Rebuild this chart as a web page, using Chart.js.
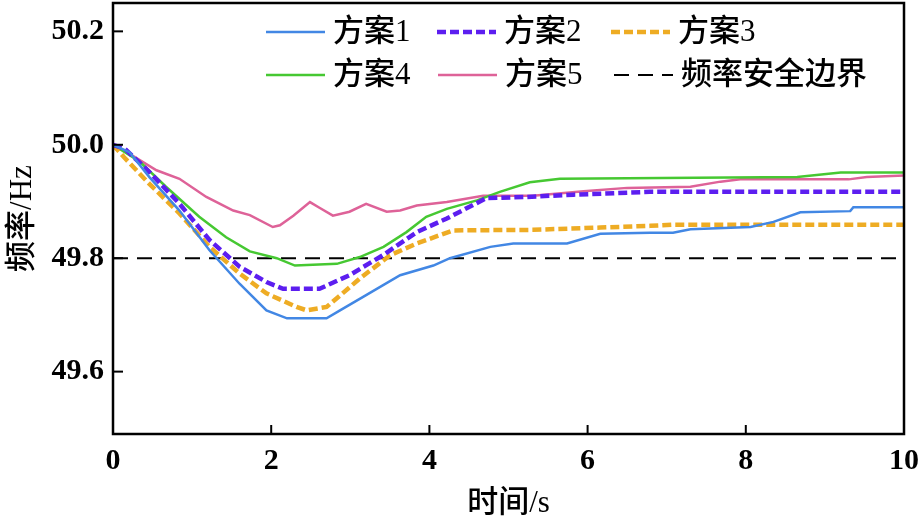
<!DOCTYPE html>
<html>
<head>
<meta charset="utf-8">
<script src="https://cdn.jsdelivr.net/npm/chart.js@4"></script>
<style>
  html, body { margin: 0; padding: 0; background: #fff; }
  #wrap { width: 924px; height: 522px; }
</style>
</head>
<body>
<div id="wrap"><canvas id="freqChart" width="924" height="522"></canvas></div>
<script>
// time (s) and frequency (Hz), one pair per scheme
const t1 = [0, 0.21, 0.46, 0.84, 1.22, 1.6, 1.94, 2.2, 2.7, 2.87, 3.2, 3.63, 4.05, 4.26, 4.77, 5.06, 5.74, 6.16, 6.79, 7.08, 7.3, 8.06, 8.35, 8.69, 9.32, 9.36, 10]
const v1 = [50.0, 49.987, 49.943, 49.884, 49.814, 49.755, 49.708, 49.694, 49.694, 49.708, 49.735, 49.77, 49.787, 49.80, 49.82, 49.826, 49.826, 49.843, 49.845, 49.845, 49.851, 49.855, 49.864, 49.881, 49.883, 49.89, 49.89]

const t2 = [0, 0.15, 0.46, 0.84, 1.22, 1.6, 1.94, 2.15, 2.61, 2.99, 3.41, 3.84, 4.22, 4.72, 5.23, 5.82, 6.79, 10]
const v2 = [50.0, 49.993, 49.952, 49.896, 49.832, 49.785, 49.758, 49.746, 49.746, 49.77, 49.805, 49.846, 49.87, 49.906, 49.908, 49.912, 49.917, 49.917]

const t3 = [0, 0.14, 0.46, 0.84, 1.22, 1.6, 1.94, 2.32, 2.45, 2.7, 3.12, 3.5, 3.84, 4.3, 5.31, 6.16, 6.79, 7.08, 10]
const v3 = [50.0, 49.978, 49.931, 49.879, 49.82, 49.773, 49.738, 49.714, 49.708, 49.714, 49.764, 49.805, 49.826, 49.849, 49.85, 49.854, 49.857, 49.859, 49.859]

const t4 = [0, 0.34, 0.67, 1.09, 1.43, 1.73, 2.07, 2.3, 2.83, 3.12, 3.42, 3.71, 3.96, 4.22, 4.6, 4.89, 5.27, 5.65, 8.65, 9.2, 10]
const v4 = [50.0, 49.97, 49.926, 49.873, 49.837, 49.812, 49.80, 49.787, 49.79, 49.802, 49.82, 49.846, 49.873, 49.887, 49.902, 49.917, 49.934, 49.94, 49.943, 49.951, 49.951]

const t5 = [0, 0.21, 0.55, 0.84, 1.18, 1.52, 1.73, 2.02, 2.11, 2.28, 2.49, 2.61, 2.78, 2.99, 3.2, 3.46, 3.63, 3.84, 4.22, 4.68, 5.31, 5.95, 6.5, 7.3, 7.68, 7.93, 9.3, 9.53, 10]
const v5 = [50.0, 49.984, 49.955, 49.94, 49.908, 49.884, 49.876, 49.855, 49.858, 49.875, 49.899, 49.889, 49.875, 49.882, 49.896, 49.882, 49.884, 49.893, 49.899, 49.91, 49.91, 49.918, 49.924, 49.926, 49.935, 49.939, 49.939, 49.943, 49.946]

const limitT = [0, 10]
const limitV = [49.8, 49.8]

const seriesNames = ["方案1", "方案2", "方案3", "方案4", "方案5", "频率安全边界"]
const xTicks = [0, 2, 4, 6, 8, 10]
const yTicks = [49.6, 49.8, 50.0, 50.2]

const serif = "'Liberation Serif', 'Noto Sans CJK SC', serif"

function toPoints(ts, vs){
    let pts = []
    ts.forEach((t, i) => {
        pts.push({x: t, y: vs[i]})
    })
    return pts
}

function makeSet(name, ts, vs, color, width, dash){
    return {
        label: name,
        data: toPoints(ts, vs),
        borderColor: color,
        borderWidth: width,
        borderDash: dash,
        pointRadius: 0,
        fill: false,
        tension: 0
    }
}

// frame, inward ticks and the legend are drawn by hand
const framePlugin = {
    id: 'frame',
    afterDraw(chart){
        const ctx = chart.ctx
        const a = chart.chartArea
        const xs = chart.scales.x
        const ys = chart.scales.y
        ctx.save()
        ctx.strokeStyle = '#000'
        ctx.lineWidth = 2.5
        ctx.strokeRect(a.left, a.top, a.right - a.left, a.bottom - a.top)
        ctx.lineWidth = 2
        xTicks.forEach(v => {
            const px = xs.getPixelForValue(v)
            ctx.beginPath(); ctx.moveTo(px, a.bottom); ctx.lineTo(px, a.bottom - 9); ctx.stroke()
        })
        yTicks.forEach(v => {
            const py = ys.getPixelForValue(v)
            ctx.beginPath(); ctx.moveTo(a.left, py); ctx.lineTo(a.left + 10, py); ctx.stroke()
        })

        // legend: two rows of three
        const items = [
            {x: 266, y: 32}, {x: 437, y: 32}, {x: 611, y: 32},
            {x: 266, y: 75}, {x: 438, y: 75}, {x: 614, y: 75}
        ]
        ctx.font = "500 31px " + serif
        ctx.textBaseline = 'middle'
        ctx.fillStyle = '#000'
        chart.data.datasets.forEach((ds, i) => {
            const it = items[i]
            ctx.strokeStyle = ds.borderColor
            ctx.lineWidth = ds.borderWidth
            ctx.setLineDash(ds.borderDash || [])
            ctx.beginPath(); ctx.moveTo(it.x, it.y); ctx.lineTo(it.x + 59, it.y); ctx.stroke()
            ctx.setLineDash([])
            ctx.fillText(ds.label, it.x + 67, it.y + 1)
        })
        ctx.restore()
    }
}

const chartConfig = {
    type: 'line',
    data: {
        datasets: [
            makeSet(seriesNames[0], t1, v1, 'rgb(66,135,228)', 2.5, []),
            makeSet(seriesNames[1], t2, v2, 'rgb(92,30,240)', 4.5, [9, 4]),
            makeSet(seriesNames[2], t3, v3, 'rgb(238,172,36)', 4.5, [9, 4]),
            makeSet(seriesNames[3], t4, v4, 'rgb(70,200,50)', 2.5, []),
            makeSet(seriesNames[4], t5, v5, 'rgb(222,98,152)', 2.5, []),
            makeSet(seriesNames[5], limitT, limitV, '#000', 2, [15, 9])
        ]
    },
    options: {
        responsive: false,
        animation: false,
        layout: { padding: { top: 3, right: 20, left: 0, bottom: 0 } },
        plugins: { legend: { display: false }, tooltip: { enabled: false } },
        scales: {
            x: {
                type: 'linear',
                min: 0,
                max: 10,
                afterBuildTicks: s => { s.ticks = xTicks.map(v => ({value: v})) },
                afterFit: s => { s.height = 88; s.paddingLeft = 0; s.paddingRight = 0 },
                grid: { display: false, drawTicks: false },
                border: { display: false },
                ticks: { color: '#000', font: { family: serif, size: 30, weight: 'bold' }, padding: 9, maxRotation: 0 },
                title: { display: true, text: '时间/s', color: '#000', font: { family: serif, size: 31, weight: '500' }, padding: { top: 0, bottom: 0 } }
            },
            y: {
                min: 49.49,
                max: 50.25,
                afterBuildTicks: s => { s.ticks = yTicks.map(v => ({value: v})) },
                afterFit: s => { s.width = 113; s.paddingTop = 0; s.paddingBottom = 0 },
                grid: { display: false, drawTicks: false },
                border: { display: false },
                ticks: { color: '#000', font: { family: serif, size: 30, weight: 'bold' }, padding: 9, callback: v => v.toFixed(1) },
                title: { display: true, text: '频率/Hz', color: '#000', font: { family: serif, size: 31, weight: '500' }, padding: { top: 4, bottom: 0 } }
            }
        }
    },
    plugins: [framePlugin]
}

const freqChart = new Chart(document.getElementById("freqChart"), chartConfig)
</script>
</body>
</html>
